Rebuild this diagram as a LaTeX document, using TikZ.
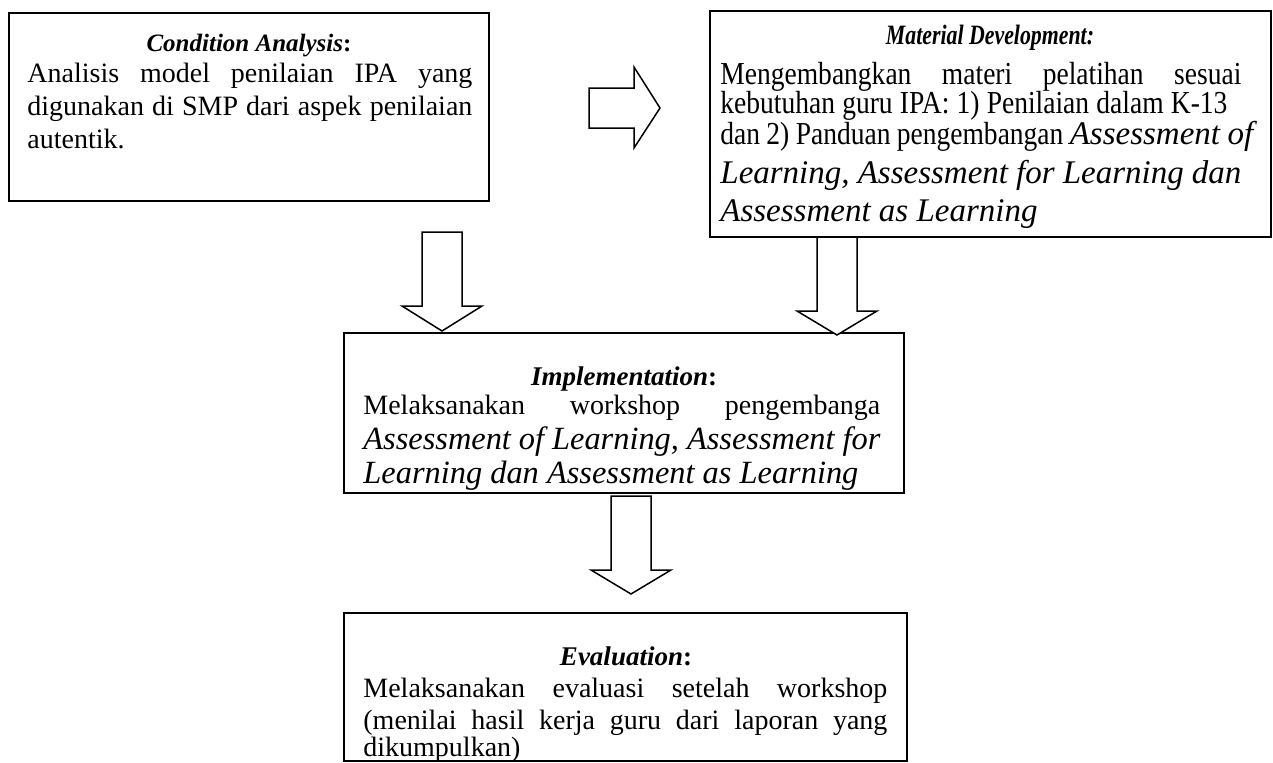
\documentclass[tikz,border=0pt]{standalone}
\usepackage{fontspec}
\setmainfont{Liberation Serif}
\newfontfamily\narfont{Liberation Serif}[FakeStretch=0.86]
\newfontfamily\nartitle{Liberation Serif}[FakeStretch=0.78]
\usetikzlibrary{calc}
\newcommand\bodyf{\fontsize{14}{16}\selectfont}
\newcommand\itf{\fontsize{16.2}{18}\selectfont\itshape}
\newcommand\itg{\rmfamily\fontsize{16.5}{18}\selectfont\itshape}
\newcommand\narf{\narfont\fontsize{16}{18}\selectfont}
\begin{document}
\begin{tikzpicture}[x=0.5pt,y=-0.5pt,
  box/.style={draw, line width=0.9pt, inner sep=0pt, outer sep=0pt, anchor=north west},
  blk/.style={draw, line width=0.75pt, fill=white, line join=miter},
  ln/.style={anchor=base west, inner sep=0pt, font=\bodyf},
  ttl/.style={anchor=base, inner sep=0pt, font=\fontsize{13.5}{16}\selectfont\bfseries\itshape}]
\useasboundingbox (0,0) rectangle (1273,762);

% boxes
\node[box, minimum width=240pt, minimum height=94pt] (ca) at (9,13) {};
\node[box, minimum width=280.5pt, minimum height=113pt] (md) at (710,11) {};
\node[box, minimum width=280pt, minimum height=80pt] (im) at (344,333) {};
\node[box, minimum width=281.5pt, minimum height=74pt] (ev) at (344,613) {};

% Condition Analysis
\node[ttl, font=\fontsize{12.5}{15}\selectfont\bfseries\itshape] (cat) at (249,51) {Condition Analysis\textup{:}};
\node[ln] (ca1) at (27,82) {\makebox[222.5pt][s]{Analisis model penilaian IPA yang}};
\node[ln] (ca2) at (27,115) {\makebox[222.5pt][s]{digunakan di SMP dari aspek penilaian}};
\node[ln] (ca3) at (27,148) {autentik.};

% Material Development
\node[ttl, font=\nartitle\fontsize{14}{16}\selectfont\bfseries\itshape] (mdt) at (990,44) {Material Development:};
\node[ln, font=\narf] (md1) at (720,84) {\makebox[260.5pt][s]{Mengembangkan materi pelatihan sesuai}};
\node[ln, font=\narf] (md2) at (720,113) {\makebox[253.5pt][s]{kebutuhan guru IPA: 1) Penilaian dalam K-13}};
\node[ln, font=\narf] (md3) at (720,144) {\makebox[266.5pt][s]{dan 2) Panduan pengembangan {\itg Assessment of}}};
\node[ln, font=\itg] (md4) at (720,183) {\makebox[260.5pt][s]{Learning, Assessment for Learning dan}};
\node[ln, font=\itg] (md5) at (720,221) {Assessment as Learning};

% Implementation
\node[ttl] (imt) at (624,385) {Implementation\textup{:}};
\node[ln] (im1) at (363,414) {\makebox[258.5pt][s]{Melaksanakan workshop pengembanga}};
\node[ln, font=\itf] (im2) at (363,449) {\makebox[258.5pt][s]{Assessment of Learning, Assessment for}};
\node[ln, font=\itf] (im3) at (363,483) {Learning dan Assessment as Learning};

% Evaluation
\node[ttl] (evt) at (626,665) {Evaluation\textup{:}};
\node[ln] (ev1) at (363,697) {\makebox[262pt][s]{Melaksanakan evaluasi setelah workshop}};
\node[ln] (ev2) at (363,729) {\makebox[262pt][s]{(menilai hasil kerja guru dari laporan yang}};
\node[ln] (ev3) at (363,756) {dikumpulkan)};

% block arrows
\draw[blk] ($(ca.east)+(100,-19)$) -- ++(45,0) -- ++(0,-21) -- ++(26,41)
   -- ++(-26,40) -- ++(0,-20) -- ++(-45,0) -- cycle;
\draw[blk] ($(ca.south east)+(-67,31)$) -- ++(40,0) -- ++(0,74) -- ++(20,0)
   -- ++(-40,25) -- ++(-40,-25) -- ++(20,0) -- cycle;
\draw[blk] ($(md.south west)+(107,0)$) -- ++(40,0) -- ++(0,74) -- ++(20,0)
   -- ++(-40,24) -- ++(-40,-24) -- ++(20,0) -- cycle;
\draw[blk] ($(im.south)+(-13,3)$) -- ++(40,0) -- ++(0,74) -- ++(20,0)
   -- ++(-40,24) -- ++(-40,-24) -- ++(20,0) -- cycle;
\end{tikzpicture}
\end{document}
